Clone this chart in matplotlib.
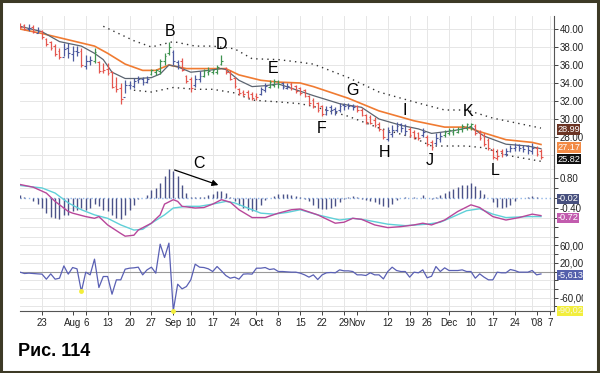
import matplotlib
matplotlib.use("Agg")
import matplotlib.pyplot as plt
import numpy as np
import pandas as pd
from matplotlib.patches import Rectangle

plt.rcParams['font.family'] = ['Liberation Sans', 'DejaVu Sans']
plt.rcParams['axes.unicode_minus'] = False

# trading calendar (index 0 = 16 Jul 2007)
holidays = pd.to_datetime(['2007-09-03', '2007-11-22', '2007-12-25', '2008-01-01'])
days = pd.bdate_range('2007-07-16', '2008-01-07')
days = days[~days.isin(holidays)]

# price bars
high = [40.7, 40.6, 40.5, 40.4, 40.2, 39.9, 39.0, 38.7, 38.3, 37.9,
        38.4, 38.4, 38.1, 38.1, 37.9, 37.1, 37.0, 37.9, 36.4, 36.2,
        36.2, 35.3, 34.7, 34.0, 34.3, 34.2, 34.6, 34.8, 34.7, 34.8,
        35.6, 35.6, 36.7, 37.3, 38.6, 37.7, 36.6, 36.8, 34.9, 34.7,
        34.9, 35.3, 35.6, 35.8, 35.6, 36.0, 37.1, 35.8, 35.4, 34.7,
        33.4, 33.2, 33.2, 33.0, 32.9, 33.6, 34.0, 34.3, 34.5, 34.3,
        34.1, 34.0, 34.1, 33.8, 33.6, 33.3, 32.7, 32.3, 31.9, 31.6,
        31.4, 31.6, 31.3, 31.8, 31.8, 31.8, 31.7, 31.6, 31.2, 30.6,
        30.4, 30.2, 29.7, 28.9, 29.1, 29.3, 29.7, 29.6, 29.4, 29.1,
        28.8, 28.6, 29.0, 28.2, 27.7, 28.4, 28.6, 28.8, 29.0, 29.0,
        29.1, 29.4, 29.6, 29.6, 29.4, 28.8, 28.4, 27.9, 26.8, 26.7,
        26.7, 26.8, 27.1, 27.3, 27.2, 27.1, 27.1, 27.3, 27.0, 26.7]
low = [40.1, 39.9, 39.8, 39.6, 39.5, 38.9, 38.1, 37.7, 37.0, 36.7,
       37.0, 36.8, 36.4, 37.0, 35.8, 35.6, 36.0, 36.2, 35.1, 35.1,
       34.9, 33.4, 33.0, 31.7, 32.9, 33.3, 33.5, 34.0, 33.8, 34.0,
       34.9, 34.9, 35.0, 36.0, 37.1, 36.0, 35.6, 35.3, 34.0, 33.0,
       33.6, 34.1, 34.7, 34.9, 35.0, 35.0, 36.0, 35.0, 34.3, 33.4,
       32.7, 32.6, 32.3, 32.1, 32.1, 32.7, 33.0, 33.4, 33.6, 33.5,
       33.3, 33.3, 33.2, 32.9, 32.7, 32.4, 31.6, 31.2, 30.8, 30.3,
       30.4, 30.6, 30.4, 30.8, 31.0, 31.1, 31.0, 30.8, 30.3, 29.5,
       29.4, 29.1, 28.7, 27.8, 27.6, 28.0, 28.6, 28.6, 28.2, 28.0,
       27.8, 27.7, 28.0, 27.0, 26.6, 27.1, 27.5, 28.0, 28.2, 28.2,
       28.4, 28.6, 28.8, 28.8, 28.2, 27.7, 27.0, 26.6, 25.6, 25.5,
       25.8, 25.9, 26.3, 26.5, 26.4, 26.3, 26.1, 26.1, 25.9, 25.6]
open_ = [40.6, 40.4, 40.0, 40.2, 39.6, 39.8, 38.9, 38.6, 38.1, 37.6,
         36.9, 37.9, 37.2, 37.6, 37.6, 35.9, 36.5, 36.4, 36.3, 35.3,
         35.6, 35.2, 33.7, 33.5, 32.4, 33.8, 33.7, 34.3, 34.4, 34.1,
         35.0, 35.2, 35.3, 36.4, 37.3, 37.5, 36.3, 36.5, 34.8, 34.4,
         33.8, 34.4, 34.8, 35.2, 35.2, 35.2, 36.1, 35.7, 35.2, 34.6,
         33.3, 33.0, 33.0, 32.8, 32.6, 32.8, 33.2, 33.6, 33.8, 34.2,
         34.0, 33.5, 33.9, 33.7, 33.4, 33.2, 32.6, 32.1, 31.8, 31.4,
         30.6, 31.3, 31.1, 31.0, 31.6, 31.6, 31.5, 31.5, 31.0, 30.4,
         30.2, 29.9, 29.5, 28.8, 27.8, 28.3, 28.8, 29.4, 29.3, 28.9,
         28.6, 28.4, 28.2, 28.0, 27.4, 27.3, 27.8, 28.2, 28.4, 28.6,
         28.6, 28.9, 29.0, 29.2, 29.2, 28.6, 28.2, 27.7, 26.6, 25.7,
         26.5, 26.1, 26.4, 26.8, 27.1, 26.9, 27.0, 26.5, 26.8, 26.5]
close = [40.2, 40.0, 40.1, 39.7, 39.8, 39.1, 38.3, 37.9, 37.2, 36.9,
         37.8, 37.3, 37.6, 37.5, 36.0, 36.5, 36.6, 37.5, 35.3, 35.4,
         35.1, 33.6, 33.3, 32.2, 33.8, 33.8, 34.2, 34.4, 34.1, 34.5,
         35.4, 35.5, 36.4, 37.0, 38.0, 36.4, 36.0, 35.5, 34.2, 33.4,
         34.5, 34.8, 35.4, 35.3, 35.4, 35.8, 36.4, 35.2, 34.5, 33.7,
         32.9, 32.8, 32.5, 32.3, 32.4, 33.3, 33.7, 34.1, 34.2, 33.9,
         33.6, 33.7, 33.4, 33.1, 32.9, 32.6, 31.8, 31.4, 31.0, 30.6,
         31.0, 31.0, 30.9, 31.5, 31.4, 31.4, 31.3, 31.0, 30.5, 29.7,
         29.6, 29.3, 28.9, 28.0, 28.6, 28.8, 29.2, 29.0, 28.7, 28.2,
         28.0, 27.9, 28.6, 27.2, 26.9, 27.9, 28.1, 28.6, 28.8, 28.8,
         28.9, 29.2, 29.4, 29.4, 28.4, 27.9, 27.2, 26.8, 25.8, 25.9,
         26.1, 26.5, 26.8, 26.9, 26.8, 26.7, 26.6, 26.8, 26.1, 25.82]
bar_colour = ("rrbrb" "rrrrr" "bbbbr" "bbgrr" "rrrrb" "bbbbb" "ggggg" "bbrrr"
              "bbggg" "ggrrr" "rrrrr" "bbggg" "bbrrr" "rrrrr" "bbbbb" "bbrrr"
              "rrrrb" "bbbbr" "rrbrr" "bbggg" "ggggr" "rrrrr" "rbbbb" "bbbrr")

# moving averages and channel (sampled at trading-day index)
slow_x = [0, 5, 11, 17, 20, 24, 28, 31, 34, 38, 43, 47, 50, 55, 59, 64, 67, 75, 82, 90, 97, 102, 105, 111, 117, 119]
slow_ema = [40.0, 39.5, 38.8, 38.1, 37.3, 36.1, 35.4, 35.4, 36.0, 35.6, 35.6, 35.6, 34.9, 34.3, 34.1, 34.0,
            33.6, 32.3, 30.9, 29.8, 29.1, 29.1, 28.6, 27.7, 27.4, 27.17]
fast_x = [0, 5, 9, 14, 17, 19, 21, 24, 27, 30, 32, 34, 36, 39, 43, 46, 47, 50, 53, 56, 59, 67, 73, 78,
          82, 87, 91, 94, 99, 103, 106, 111, 116, 119]
fast_ema = [40.3, 39.7, 38.6, 38.1, 37.3, 36.6, 35.2, 34.5, 34.5, 34.6, 35.0, 36.0, 35.8, 35.2, 35.4, 35.6,
            35.5, 34.3, 33.6, 33.7, 33.9, 32.6, 31.7, 31.3, 30.0, 29.3, 28.9, 28.4, 28.7, 29.1, 28.1, 27.2,
            27.0, 26.7]
upper_x = [19, 26, 30, 35, 40, 44, 49, 53, 59, 64, 67, 75, 82, 90, 97, 102, 108, 119]
upper = [40.3, 38.7, 38.0, 38.6, 38.1, 38.1, 37.8, 36.7, 36.6, 36.3, 36.1, 34.6, 33.0, 31.9, 31.0, 31.0, 30.1, 28.99]
lower_x = [26, 30, 35, 40, 44, 49, 53, 59, 64, 67, 75, 82, 90, 94, 97, 102, 106, 112, 119]
lower = [33.2, 33.0, 33.5, 33.3, 33.3, 32.9, 32.1, 31.9, 31.7, 31.4, 30.3, 29.0, 27.9, 27.0, 27.0, 27.0, 26.8, 25.9, 25.3]

# MACD panel
macd_x = [0, 3, 6, 8, 11, 12, 15, 17, 18, 20, 23, 24, 26, 27, 30, 32, 33, 35, 36, 37, 40, 42, 44, 46, 48,
          50, 53, 56, 59, 62, 64, 68, 72, 74, 76, 78, 81, 84, 87, 90, 92, 94, 97, 100, 103, 105, 108, 111,
          114, 117, 119]
macd = [0.55, 0.44, 0.20, -0.14, -0.55, -0.62, -0.76, -0.83, -0.76, -1.10, -1.45, -1.56, -1.52, -1.31,
        -1.03, -0.69, -0.25, -0.07, -0.14, -0.34, -0.41, -0.39, -0.25, -0.07, -0.17, -0.48, -0.80, -0.80,
        -0.62, -0.48, -0.45, -0.69, -1.03, -0.99, -0.83, -0.87, -1.10, -1.21, -1.17, -1.10, -1.03, -1.10,
        -0.90, -0.55, -0.28, -0.39, -0.76, -0.90, -0.80, -0.66, -0.72]
signal_x = [0, 5, 8, 11, 14, 17, 20, 23, 26, 28, 30, 33, 35, 38, 41, 44, 47, 49, 52, 55, 58, 61, 64, 68,
            73, 76, 79, 84, 88, 93, 96, 99, 102, 105, 108, 111, 116, 119]
signal = [0.51, 0.41, 0.20, -0.20, -0.48, -0.69, -0.83, -1.10, -1.31, -1.28, -1.03, -0.69, -0.41, -0.34,
          -0.34, -0.25, -0.14, -0.20, -0.41, -0.62, -0.66, -0.59, -0.48, -0.69, -0.90, -0.83, -0.90, -1.07,
          -1.13, -1.07, -0.99, -0.76, -0.52, -0.44, -0.66, -0.80, -0.76, -0.76]
hist = [0.14, 0.05, 0.0, -0.14, -0.25, -0.41, -0.62, -0.76, -0.83, -0.87,
        -0.69, -0.69, -0.55, -0.48, -0.41, -0.48, -0.41, -0.25, -0.34, -0.48,
        -0.55, -0.69, -0.83, -0.85, -0.69, -0.48, -0.28, -0.03, 0.0, 0.14,
        0.34, 0.41, 0.62, 0.90, 1.17, 1.10, 0.90, 0.55, 0.20, 0.02,
        0.02, 0.03, 0.05, 0.11, 0.17, 0.30, 0.30, 0.20, 0.02, -0.14,
        -0.28, -0.39, -0.48, -0.55, -0.48, -0.28, -0.07, 0.0, 0.07, 0.17,
        0.17, 0.17, 0.11, 0.07, 0.04, -0.05, -0.14, -0.28, -0.41, -0.45,
        -0.45, -0.39, -0.34, -0.17, -0.04, 0.04, 0.07, 0.04, -0.04, -0.07,
        -0.11, -0.17, -0.25, -0.34, -0.38, -0.25, -0.07, 0.0, 0.04, 0.0,
        0.04, 0.0, 0.11, 0.0, -0.04, 0.03, 0.11, 0.20, 0.30, 0.37,
        0.44, 0.52, 0.55, 0.62, 0.48, 0.34, 0.17, 0.0, -0.17, -0.38,
        -0.41, -0.38, -0.28, -0.11, 0.0, 0.0, 0.04, 0.10, 0.04, -0.02]

# lower oscillator
osc = [-1500, -4600, -3800, -4600, -5400, -6000, -17700, -5400, -17700, -15400,
       13000, -6000, 9200, 6200, -46000, -1500, -7700, 28500, -36900, -11500,
       -11500, -52300, -19200, -19200, 5400, 7700, 8500, 10000, -7700, 3800,
       10000, -3800, 63000, 32300, 65400, -90020, -29200, -40000, -34600, -19200,
       16900, 10000, 9200, 6200, 0, 11500, 1500, -9200, -15400, -13000,
       -17700, -6000, -5400, -6000, 7700, 7700, 9200, 4600, 6200, 0,
       0, -800, -1500, -1500, -3800, -7700, -13000, -7700, -18500, -7700,
       -3000, -2300, -3000, 3800, 1500, 1500, 0, -7700, -7700, -9200,
       -3000, -7700, -7700, -17000, 0, 10000, 2300, 0, 0, -13000,
       -1500, -3000, 3800, -14600, -10800, 11500, 0, 8500, 2300, 2300,
       2300, 3800, 0, 0, -15400, -5400, -13000, -19200, -19200, -1500,
       -3000, -3000, 4600, 2300, -1500, -1500, -1500, 2300, -7700, -5613]
osc_marks = [14, 35]

# axis labels
tick_dates = ['2007-07-23', '2007-08-01', '2007-08-06', '2007-08-13', '2007-08-20', '2007-08-27',
              '2007-09-04', '2007-09-10', '2007-09-17', '2007-09-24', '2007-10-01', '2007-10-08',
              '2007-10-15', '2007-10-22', '2007-10-29', '2007-11-01', '2007-11-12', '2007-11-19',
              '2007-11-26', '2007-12-03', '2007-12-10', '2007-12-17', '2007-12-24', '2008-01-02',
              '2008-01-07']
tick_labels = ['23', 'Aug', '6', '13', '20', '27', 'Sep', '10', '17', '24', 'Oct', '8', '15', '22',
               '29', 'Nov', '12', '19', '26', 'Dec', '10', '17', '24', "'08", '7']

letters = ['B', 'D', 'E', 'F', 'G', 'H', 'I', 'J', 'K', 'L']
letter_x = [34.2, 46.1, 57.8, 69.0, 76.0, 83.3, 87.9, 93.6, 102.3, 108.5]
letter_y = [39.67, 38.33, 35.56, 29.0, 33.22, 26.33, 31.0, 25.44, 30.78, 24.33]

colour_map = {'r': '#e4574f', 'b': '#4d5a9e', 'g': '#3f9350'}
grid_c = '#e6e6e6'

idx = np.arange(len(close))
tick_pos = [days.get_loc(pd.Timestamp(d)) for d in tick_dates]
week_pos = [i for i in range(1, len(days)) if days[i].weekday() < days[i - 1].weekday()]

fig = plt.figure(figsize=(6, 3.73), dpi=100)
fig.patch.set_facecolor('white')
ax1 = fig.add_axes([0.0335, 0.555, 0.89, 0.402])
ax2 = fig.add_axes([0.0335, 0.362, 0.89, 0.193], sharex=ax1)
ax3 = fig.add_axes([0.0335, 0.166, 0.89, 0.196], sharex=ax1)
ax1.set_zorder(2)

for ax in (ax1, ax2, ax3):
    ax.set_facecolor('none')
    for s in ('left', 'top', 'bottom'):
        ax.spines[s].set_visible(False)
    ax.spines['right'].set_color('#555555')
    ax.spines['right'].set_linewidth(0.8)
    ax.yaxis.tick_right()
    ax.tick_params(axis='y', labelsize=7, colors='#222222', length=3, width=0.6, pad=1)
    ax.tick_params(axis='x', length=0, labelbottom=False)
    for w in week_pos:
        ax.axvline(w, color=grid_c, lw=0.7, zorder=0)

ax1.set_xlim(0, 122)

# price panel
ax1.set_ylim(24.78, 41.44)
ax1.set_yticks(np.arange(28, 41, 2))
ax1.set_yticklabels(['%.2f' % v for v in np.arange(28, 41, 2)])
for v in np.arange(26, 42, 2):
    ax1.axhline(v, color=grid_c, lw=0.7, zorder=0)
cols = [colour_map[c] for c in bar_colour]
ax1.vlines(idx, low, high, colors=cols, lw=0.9, zorder=3)
ax1.hlines(open_, idx - 0.4, idx, colors=cols, lw=0.8, zorder=3)
ax1.hlines(close, idx, idx + 0.4, colors=cols, lw=0.8, zorder=3)
ax1.plot(slow_x, slow_ema, color='#f07b32', lw=1.2, zorder=2)
ax1.plot(fast_x, fast_ema, color='#5b6470', lw=0.9, zorder=2)
ax1.plot(upper_x, upper, color='#333333', lw=1.0, ls=(0, (1, 3)), zorder=2)
ax1.plot(lower_x, lower, color='#333333', lw=1.0, ls=(0, (1, 3)), zorder=2)
for t, x, y in zip(letters, letter_x, letter_y):
    ax1.text(x, y, t, fontsize=11.5, ha='center', va='center', color='black', clip_on=False, zorder=6)

# MACD panel
ax2.set_ylim(-1.633, 1.306)
ax2.set_yticks([-1.6, -1.2, -0.8, -0.4, 0, 0.4, 0.8])
ax2.set_yticklabels(['', '', '', '-0.40', '', '', '0.80'])
for v in [-1.6, -1.2, -0.8, -0.4, 0.4, 0.8, 1.2]:
    ax2.axhline(v, color=grid_c, lw=0.7, zorder=0)
ax2.axhline(0, color='#8fb4e6', lw=1.0, ls=(0, (1, 2)), zorder=1)
ax2.vlines(idx, 0, hist, colors='#4b5288', lw=1.0, zorder=2)
ax2.plot(signal_x, signal, color='#5fd0d8', lw=1.0, zorder=3)
ax2.plot(macd_x, macd, color='#b8479a', lw=1.0, zorder=4)
ax2.annotate('', xy=(45.9, 0.49), xytext=(34.7, 1.18),
             arrowprops=dict(arrowstyle='-|>', color='black', lw=0.9, mutation_scale=9),
             annotation_clip=False, zorder=6)
ax2.text(40.9, 1.39, 'C', fontsize=11.5, ha='center', va='center', clip_on=False, zorder=6)

# oscillator panel
ax3.set_ylim(-91200, 77300)
ax3.set_yticks(np.arange(-80000, 70000, 20000))
ax3.set_yticklabels(['', '-60,000', '', '', '', '20,000', '', '60,000'])
for v in np.arange(-80000, 70000, 20000):
    ax3.axhline(v, color='#9a9a9a' if v == 0 else grid_c, lw=0.8 if v == 0 else 0.7, zorder=0)
ax3.plot(idx, osc, color='#5a60b4', lw=0.9, zorder=3)
ax3.plot(osc_marks, [osc[i] for i in osc_marks], 'o', color='#f3ee3a', ms=3.5, mec='none', zorder=4,
         clip_on=False)
ax3.spines['bottom'].set_visible(True)
ax3.spines['bottom'].set_color('#555555')
ax3.spines['bottom'].set_linewidth(0.8)
ax3.set_xticks(tick_pos)
ax3.set_xticklabels(tick_labels)
ax3.tick_params(axis='x', labelbottom=True, length=3, width=0.6, colors='#222222', labelsize=7, pad=2)


def value_box(ax, val, txt, fc, tc='white', dy=-1.8):
    ax.annotate(txt, xy=(1, val), xycoords=('axes fraction', 'data'), xytext=(2.3, dy),
                textcoords='offset points', ha='left', va='center', fontsize=6.6, color=tc,
                bbox=dict(boxstyle='square,pad=0.06', fc=fc, ec='none'), annotation_clip=False, zorder=7)


value_box(ax1, upper[-1], '%.2f' % upper[-1], '#6b3424', dy=-1.0)
value_box(ax1, slow_ema[-1], '%.2f' % slow_ema[-1], '#f28a45', dy=-2.2)
value_box(ax1, close[-1], '%.2f' % close[-1], '#111111')
value_box(ax2, hist[-1], '%.2f' % hist[-1], '#47507e', dy=-0.3)
value_box(ax2, macd[-1], '%.2f' % macd[-1], '#c25cae', dy=-1.4)
value_box(ax3, osc[-1], '{:,}'.format(osc[-1]), '#5460ac', dy=-0.8)
value_box(ax3, min(osc), '{:,}'.format(min(osc)), '#f2ee3c', tc='#f8f8e0', dy=0)

# the source image is cut off just right of the value labels
fig.add_artist(Rectangle((583 / 600, 0.01), 13 / 600, 0.98, transform=fig.transFigure,
                         fc='white', ec='none', zorder=20))
fig.add_artist(Rectangle((0.002, 0.003), 0.994, 0.994, transform=fig.transFigure,
                         fill=False, ec='#3d3a26', lw=2.2, zorder=21))
fig.text(18 / 600, 1 - 352 / 373, 'Рис. 114', fontsize=13, fontweight='bold', ha='left', va='center')

fig.savefig('out.png', dpi=100, facecolor='white')
